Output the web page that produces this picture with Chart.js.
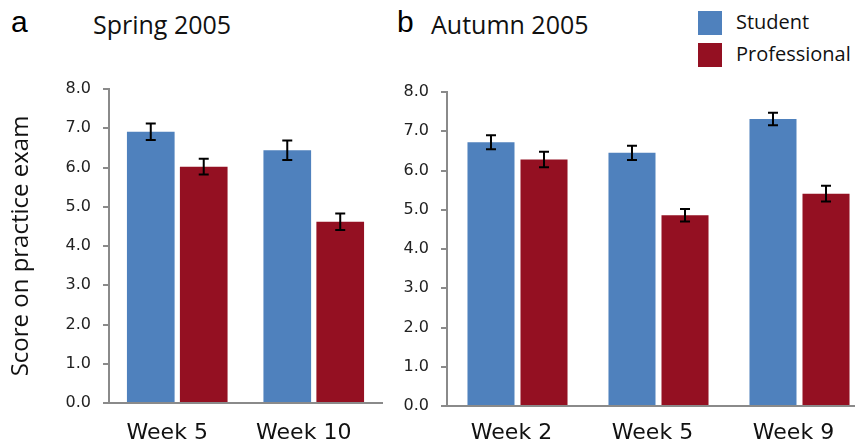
<!DOCTYPE html>
<html>
<head>
<meta charset="utf-8">
<script src="https://cdn.jsdelivr.net/npm/chart.js"></script>
<style>
  body { margin: 0; background: #fff; width: 855px; height: 445px; overflow: hidden; position: relative; }
  .lbl { position: absolute; white-space: nowrap; color: #111; font-family: "Open Sans", sans-serif; }
  .panel { position: absolute; top: 0; font-family: "Liberation Sans", Arial, sans-serif; color: #000; }
  .sw { position: absolute; width: 24px; height: 24px; }
  canvas { position: absolute; top: 0; }
</style>
</head>
<body>
<div class="panel" style="left:11px; top:5px; font-size:30px;">a</div>
<div class="lbl" style="left:93px; top:7px; font-size:25px;">Spring 2005</div>
<div class="panel" style="left:397px; top:5px; font-size:30px;">b</div>
<div class="lbl" style="left:431px; top:7px; font-size:25px;">Autumn 2005</div>
<div class="sw" style="left:698px; top:11px; background:#4f81bd;"></div>
<div class="sw" style="left:698px; top:43px; background:#941022;"></div>
<div class="lbl" style="left:736px; top:8px; font-size:20px;">Student</div>
<div class="lbl" style="left:736px; top:40px; font-size:20px;">Professional</div>

<canvas id="springChart" width="385" height="445" style="left:0px"></canvas>
<canvas id="autumnChart" width="490" height="445" style="left:385px"></canvas>

<script>
// Spring 2005
const springWeeks = ['Week 5', 'Week 10'];
const springStudent = [6.91, 6.44];
const springStudentErr = [0.21, 0.25];
const springProf = [6.02, 4.62];
const springProfErr = [0.20, 0.21];

// Autumn 2005
const autumnWeeks = ['Week 2', 'Week 5', 'Week 9'];
const autumnStudent = [6.72, 6.45, 7.31];
const autumnStudentErr = [0.18, 0.18, 0.16];
const autumnProf = [6.28, 4.86, 5.41];
const autumnProfErr = [0.20, 0.16, 0.20];

const yTicks = [0, 1, 2, 3, 4, 5, 6, 7, 8];

const blue = '#4f81bd';
const red = '#941022';
const axisGrey = '#8a8a8a';

// draws the black error bars on top of the bars
const errorBars = {
    id: 'errorBars',
    afterDatasetsDraw(chart) {
        const ctx = chart.ctx;
        const y = chart.scales.y;
        ctx.save();
        ctx.strokeStyle = '#000';
        ctx.lineWidth = 2;
        chart.data.datasets.forEach((ds, i) => {
            const meta = chart.getDatasetMeta(i);
            meta.data.forEach((bar, j) => {
                const v = ds.data[j], e = ds.errors[j];
                const top = y.getPixelForValue(v + e);
                const bot = y.getPixelForValue(v - e);
                ctx.beginPath();
                ctx.moveTo(bar.x, top); ctx.lineTo(bar.x, bot);
                ctx.moveTo(bar.x - 5, top); ctx.lineTo(bar.x + 5, top);
                ctx.moveTo(bar.x - 5, bot); ctx.lineTo(bar.x + 5, bot);
                ctx.stroke();
            });
        });
        ctx.restore();
    }
};

function makeChart(id, labels, stu, stuErr, prof, profErr, opts) {
    const ctx = document.getElementById(id).getContext('2d');
    return new Chart(ctx, {
        type: 'bar',
        data: {
            labels: labels,
            datasets: [
                { label: 'Student', data: stu, errors: stuErr, backgroundColor: blue,
                  categoryPercentage: opts.cat, barPercentage: opts.bar },
                { label: 'Professional', data: prof, errors: profErr, backgroundColor: red,
                  categoryPercentage: opts.cat, barPercentage: opts.bar }
            ]
        },
        options: {
            responsive: false,
            animation: false,
            layout: { padding: { top: opts.top, right: opts.right, left: 0, bottom: 0 } },
            plugins: { legend: { display: false }, tooltip: { enabled: false } },
            scales: {
                x: {
                    grid: { display: false },
                    border: { color: axisGrey, width: 2 },
                    ticks: { color: '#111', padding: opts.xPad, labelOffset: opts.xOff,
                             maxRotation: 0, font: { family: 'DejaVu Sans', size: 22 } },
                    afterFit(s) { s.height = opts.xH; }
                },
                y: {
                    min: 0, max: 8,
                    afterBuildTicks(s) { s.ticks = yTicks.map(v => ({ value: v })); },
                    grid: { drawOnChartArea: false, drawTicks: true, tickLength: 6, color: axisGrey, lineWidth: 2 },
                    border: { color: axisGrey, width: 2 },
                    ticks: { color: '#222', padding: 12, font: { family: 'DejaVu Sans', size: 16 },
                             callback: v => v.toFixed(1) },
                    title: opts.title ? { display: true, text: opts.title, color: '#111',
                             font: { family: 'Open Sans', size: 24 }, padding: { top: 7, bottom: 0 } }
                           : { display: false },
                    afterFit(s) { s.width = opts.yW; }
                }
            }
        },
        plugins: [errorBars]
    });
}

makeChart('springChart', springWeeks, springStudent, springStudentErr, springProf, springProfErr,
    { top: 89, right: 3, yW: 109, xH: 42, xPad: 9, xOff: -10, cat: 0.776, bar: 0.9,
      title: 'Score on practice exam' });
makeChart('autumnChart', autumnWeeks, autumnStudent, autumnStudentErr, autumnProf, autumnProfErr,
    { top: 92, right: 5, yW: 62, xH: 39, xPad: 6, xOff: -6, cat: 0.752, bar: 0.887,
      title: null });
</script>
</body>
</html>
